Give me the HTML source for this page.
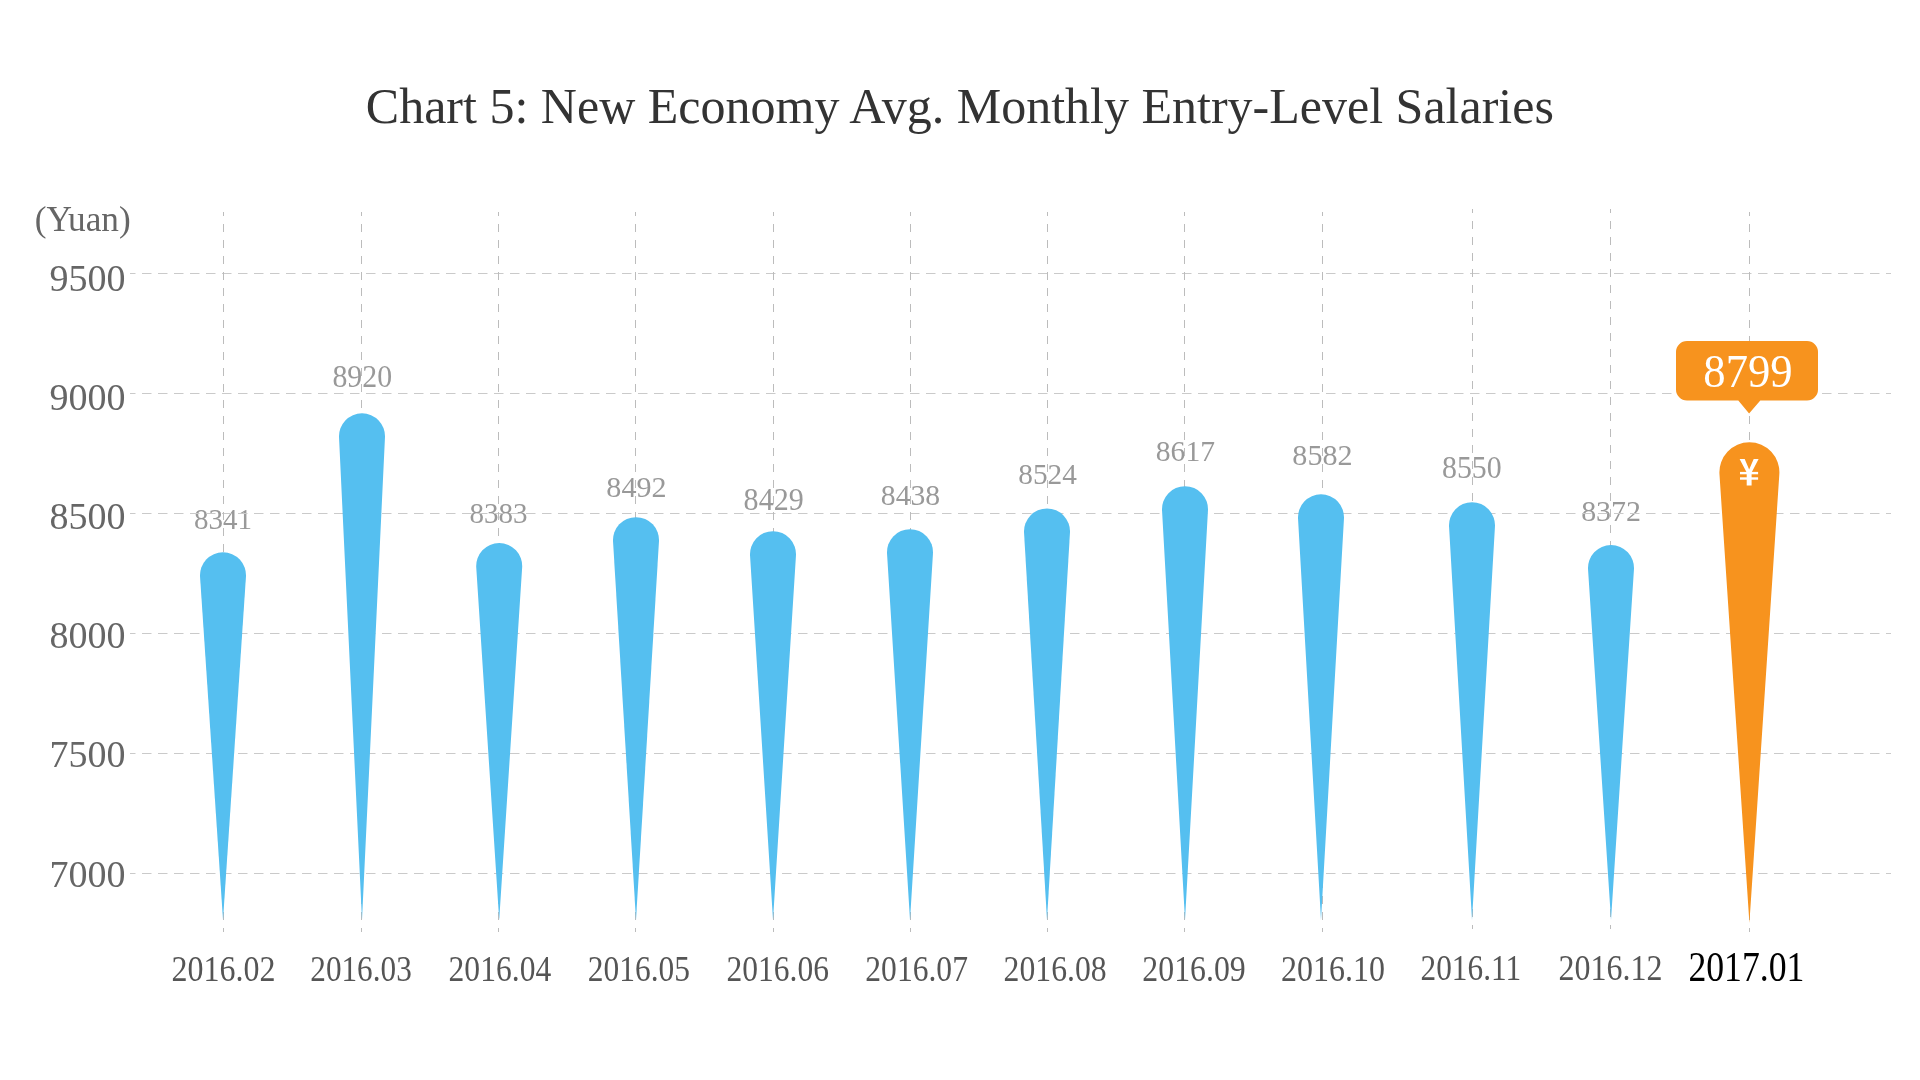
<!DOCTYPE html>
<html><head><meta charset="utf-8"><title>Chart 5</title>
<style>
html,body{margin:0;padding:0;background:#fff;}
body{width:1920px;height:1080px;overflow:hidden;position:relative;font-family:"Liberation Serif",serif;}
svg{position:absolute;left:0;top:0;display:block;will-change:transform;}
text{font-family:"Liberation Serif",serif;}
</style></head><body>
<svg width="1920" height="1080" viewBox="0 0 1920 1080">
<rect width="1920" height="1080" fill="#ffffff"/>
<text transform="translate(365.80,123.00) scale(1.0007,1)" font-size="50" fill="#333333">Chart 5: New Economy Avg. Monthly Entry-Level Salaries</text>
<text transform="translate(34.66,230.80) scale(1.0088,1)" font-size="35" fill="#666666">(Yuan)</text>
<text x="49.62" y="291.00" font-size="38" fill="#666666">9500</text>
<text x="49.62" y="410.10" font-size="38" fill="#666666">9000</text>
<text x="49.62" y="529.20" font-size="38" fill="#666666">8500</text>
<text x="49.62" y="648.30" font-size="38" fill="#666666">8000</text>
<text x="49.62" y="767.40" font-size="38" fill="#666666">7500</text>
<text x="49.62" y="886.50" font-size="38" fill="#666666">7000</text>
<text transform="translate(193.91,529.45) scale(0.9522,1)" font-size="30.5" fill="#999999">8341</text>
<text transform="translate(332.38,386.95) scale(0.9793,1)" font-size="30.5" fill="#999999">8920</text>
<text transform="translate(469.51,522.60) scale(0.9533,1)" font-size="30.5" fill="#999999">8383</text>
<text transform="translate(606.37,496.95) scale(0.9883,1)" font-size="30.5" fill="#999999">8492</text>
<text transform="translate(743.62,509.70) scale(0.9849,1)" font-size="30.5" fill="#999999">8429</text>
<text transform="translate(880.79,504.95) scale(0.9742,1)" font-size="30.5" fill="#999999">8438</text>
<text transform="translate(1018.30,484.45) scale(0.9613,1)" font-size="30.5" fill="#999999">8524</text>
<text transform="translate(1155.79,460.70) scale(0.9705,1)" font-size="30.5" fill="#999999">8617</text>
<text transform="translate(1292.37,465.30) scale(0.9883,1)" font-size="30.5" fill="#999999">8582</text>
<text transform="translate(1441.98,477.60) scale(0.9793,1)" font-size="30.5" fill="#999999">8550</text>
<text transform="translate(1581.13,520.60) scale(0.9823,1)" font-size="30.5" fill="#999999">8372</text>
<g stroke-width="1" fill="none">
<line x1="130" y1="273.5" x2="1891" y2="273.5" stroke="#cacaca" stroke-dasharray="9.5 6.5" stroke-dashoffset="4"/>
<line x1="130" y1="393.5" x2="1891" y2="393.5" stroke="#cacaca" stroke-dasharray="9.5 6.5" stroke-dashoffset="4"/>
<line x1="130" y1="513.5" x2="1891" y2="513.5" stroke="#cacaca" stroke-dasharray="9.5 6.5" stroke-dashoffset="4"/>
<line x1="130" y1="633.5" x2="1891" y2="633.5" stroke="#cacaca" stroke-dasharray="9.5 6.5" stroke-dashoffset="4"/>
<line x1="130" y1="753.5" x2="1891" y2="753.5" stroke="#cacaca" stroke-dasharray="9.5 6.5" stroke-dashoffset="4"/>
<line x1="130" y1="873.5" x2="1891" y2="873.5" stroke="#cacaca" stroke-dasharray="9.5 6.5" stroke-dashoffset="4"/>
<line x1="223.5" y1="212" x2="223.5" y2="932" stroke="#bcbcbc" stroke-dasharray="8 8" stroke-dashoffset="4"/>
<line x1="361.5" y1="212" x2="361.5" y2="932" stroke="#bcbcbc" stroke-dasharray="8 8" stroke-dashoffset="4"/>
<line x1="498.5" y1="212" x2="498.5" y2="932" stroke="#bcbcbc" stroke-dasharray="8 8" stroke-dashoffset="4"/>
<line x1="635.5" y1="212" x2="635.5" y2="932" stroke="#bcbcbc" stroke-dasharray="8 8" stroke-dashoffset="4"/>
<line x1="773.5" y1="212" x2="773.5" y2="932" stroke="#bcbcbc" stroke-dasharray="8 8" stroke-dashoffset="4"/>
<line x1="910.5" y1="212" x2="910.5" y2="932" stroke="#bcbcbc" stroke-dasharray="8 8" stroke-dashoffset="4"/>
<line x1="1047.5" y1="212" x2="1047.5" y2="932" stroke="#bcbcbc" stroke-dasharray="8 8" stroke-dashoffset="4"/>
<line x1="1184.5" y1="212" x2="1184.5" y2="932" stroke="#bcbcbc" stroke-dasharray="8 8" stroke-dashoffset="4"/>
<line x1="1322.5" y1="212" x2="1322.5" y2="932" stroke="#bcbcbc" stroke-dasharray="8 8" stroke-dashoffset="4"/>
<line x1="1472.5" y1="209" x2="1472.5" y2="929" stroke="#bcbcbc" stroke-dasharray="8 8" stroke-dashoffset="4"/>
<line x1="1610.5" y1="209" x2="1610.5" y2="929" stroke="#bcbcbc" stroke-dasharray="8 8" stroke-dashoffset="4"/>
<line x1="1749.5" y1="212" x2="1749.5" y2="932" stroke="#bcbcbc" stroke-dasharray="8 8" stroke-dashoffset="4"/>
</g>
<path d="M200.05,576.78 A23,23 0 1 1 245.95,576.78 L223,920 Z" fill="#55BFF0"/>
<path d="M339.03,437.49 A23,23 0 1 1 384.97,437.49 L362,920 Z" fill="#55BFF0"/>
<path d="M476.25,567.59 A23,23 0 1 1 522.15,567.59 L499.2,920 Z" fill="#55BFF0"/>
<path d="M613.04,541.49 A23,23 0 1 1 658.96,541.49 L636,920 Z" fill="#55BFF0"/>
<path d="M750.05,555.70 A23,23 0 1 1 795.95,555.70 L773,920 Z" fill="#55BFF0"/>
<path d="M887.04,553.54 A23,23 0 1 1 932.96,553.54 L910,920 Z" fill="#55BFF0"/>
<path d="M1024.04,532.76 A23,23 0 1 1 1069.96,532.76 L1047,920 Z" fill="#55BFF0"/>
<path d="M1162.04,510.54 A23,23 0 1 1 1207.96,510.54 L1185,920 Z" fill="#55BFF0"/>
<path d="M1298.04,518.71 A23,23 0 1 1 1343.96,518.71 L1321,920 Z" fill="#55BFF0"/>
<path d="M1449.04,526.59 A23,23 0 1 1 1494.96,526.59 L1472,920 Z" fill="#55BFF0"/>
<path d="M1588.05,569.50 A23,23 0 1 1 1633.95,569.50 L1611,920 Z" fill="#55BFF0"/>
<path d="M1719.47,474.30 A30,30 0 1 1 1779.33,474.30 L1749.4,923 Z" fill="#F7931E"/>
<path d="M1687,341 H1807 A11,11 0 0 1 1818,352 V389.5 A11,11 0 0 1 1807,400.5 H1760.3 L1749.1,413.4 L1738.3,400.5 H1687 A11,11 0 0 1 1676,389.5 V352 A11,11 0 0 1 1687,341 Z" fill="#F7931E"/>
<text transform="translate(1703.33,386.80) scale(0.9598,1)" font-size="46.5" fill="#ffffff">8799</text>
<g fill="#ffffff"><path d="M1739.6,459 L1744.7,459 L1749.15,469.4 L1753.7,459 L1758.6,459 L1751.6,472.6 L1751.6,485.4 L1746.7,485.4 L1746.7,472.6 Z"/><rect x="1740" y="471.9" width="18.1" height="2.4"/><rect x="1740" y="477.3" width="18.1" height="2.4"/></g>
<text transform="translate(171.56,980.90) scale(0.8889,1)" font-size="36" fill="#555555">2016.02</text>
<text transform="translate(310.30,980.90) scale(0.8671,1)" font-size="36" fill="#555555">2016.03</text>
<text transform="translate(448.58,980.90) scale(0.8773,1)" font-size="36" fill="#555555">2016.04</text>
<text transform="translate(587.84,980.90) scale(0.8733,1)" font-size="36" fill="#555555">2016.05</text>
<text transform="translate(726.58,980.90) scale(0.8749,1)" font-size="36" fill="#555555">2016.06</text>
<text transform="translate(865.33,980.90) scale(0.8771,1)" font-size="36" fill="#555555">2016.07</text>
<text transform="translate(1003.57,980.90) scale(0.8813,1)" font-size="36" fill="#555555">2016.08</text>
<text transform="translate(1142.32,980.90) scale(0.8842,1)" font-size="36" fill="#555555">2016.09</text>
<text transform="translate(1281.06,981.20) scale(0.8879,1)" font-size="36" fill="#555555">2016.10</text>
<text transform="translate(1420.59,979.60) scale(0.8693,1)" font-size="36" fill="#555555">2016.11</text>
<text transform="translate(1558.56,979.60) scale(0.8884,1)" font-size="36" fill="#555555">2016.12</text>
<text transform="translate(1688.39,980.70) scale(0.8604,1)" font-size="41.5" fill="#000000">2017.01</text>
</svg></body></html>
